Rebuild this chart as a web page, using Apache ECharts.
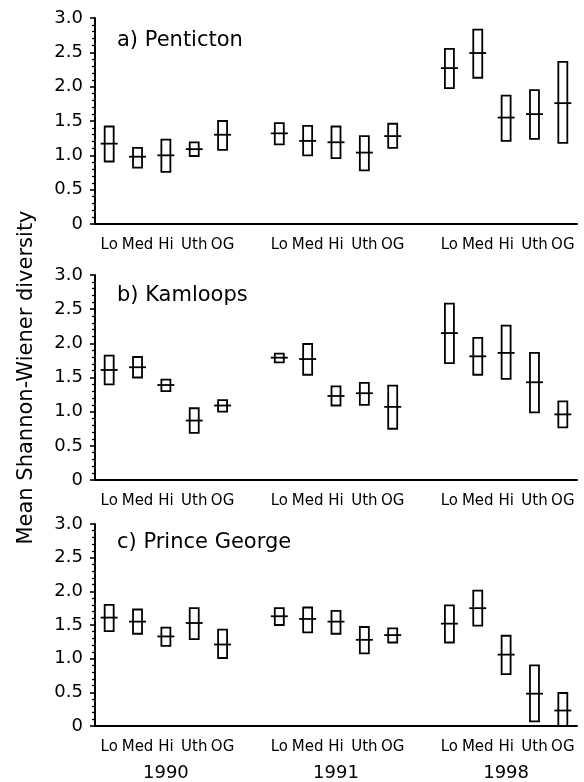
<!DOCTYPE html>
<html>
<head>
<meta charset="utf-8">
<script src="https://cdn.jsdelivr.net/npm/echarts@6/dist/echarts.min.js"></script>
<style>
  html, body { margin: 0; padding: 0; background: #fff; }
  #chart { width: 584px; height: 782px; }
</style>
</head>
<body>
<div id="chart"></div>
<script>
// categories
var treatments = ['Lo', 'Med', 'Hi', 'Uth', 'OG'];
var years = ['1990', '1991', '1998'];
var sites = ['a) Penticton', 'b) Kamloops', 'c) Prince George'];

// Penticton (per year: Lo, Med, Hi, Uth, OG)
var pentictonMean = [1.17, 0.98, 1.00, 1.09, 1.30, 1.32, 1.21, 1.19, 1.04, 1.28, 2.27, 2.49, 1.55, 1.60, 1.76];
var pentictonLow  = [0.91, 0.82, 0.76, 0.99, 1.08, 1.16, 1.00, 0.96, 0.78, 1.11, 1.98, 2.13, 1.21, 1.24, 1.18];
var pentictonHigh = [1.42, 1.11, 1.23, 1.19, 1.50, 1.47, 1.43, 1.42, 1.28, 1.46, 2.55, 2.83, 1.87, 1.95, 2.36];

// Kamloops
var kamloopsMean = [1.61, 1.65, 1.39, 0.87, 1.09, 1.79, 1.77, 1.23, 1.27, 1.07, 2.15, 1.81, 1.86, 1.43, 0.96];
var kamloopsLow  = [1.40, 1.50, 1.30, 0.69, 1.00, 1.72, 1.54, 1.09, 1.10, 0.75, 1.71, 1.54, 1.48, 0.99, 0.77];
var kamloopsHigh = [1.82, 1.80, 1.47, 1.05, 1.17, 1.85, 1.99, 1.37, 1.42, 1.38, 2.58, 2.08, 2.26, 1.86, 1.15];

// Prince George
var princeGeorgeMean = [1.61, 1.55, 1.33, 1.53, 1.21, 1.63, 1.59, 1.55, 1.28, 1.35, 1.52, 1.75, 1.06, 0.48, 0.23];
var princeGeorgeLow  = [1.41, 1.37, 1.19, 1.29, 1.01, 1.50, 1.39, 1.37, 1.08, 1.24, 1.24, 1.49, 0.77, 0.07, 0.00];
var princeGeorgeHigh = [1.80, 1.73, 1.46, 1.75, 1.43, 1.75, 1.76, 1.71, 1.47, 1.45, 1.79, 2.01, 1.34, 0.90, 0.49];

// y ticks
var yMin = 0, yMax = 3, yStep = 0.5;

var FONT = 'DejaVu Sans';

// x slots: 5 treatments + 1 empty gap between years
var slots = [];
var slotLabel = [];
years.forEach(function (y, yi) {
  treatments.forEach(function (t) { slots.push(y + ' ' + t); slotLabel.push(t); });
  if (yi < years.length - 1) { slots.push(y + ' gap'); slotLabel.push(''); }
});

function toData(mean, low, high) {
  var out = [];
  for (var i = 0; i < mean.length; i++) {
    var slot = Math.floor(i / 5) * 6 + (i % 5);
    out.push([slot, low[i], high[i], mean[i]]);
  }
  return out;
}
var siteData = [
  toData(pentictonMean, pentictonLow, pentictonHigh),
  toData(kamloopsMean, kamloopsLow, kamloopsHigh),
  toData(princeGeorgeMean, princeGeorgeLow, princeGeorgeHigh)
];

function renderBox(params, api) {
  var x = api.value(0);
  var lo = api.coord([x, api.value(1)]);
  var hi = api.coord([x, api.value(2)]);
  var mn = api.coord([x, api.value(3)]);
  return {
    type: 'group',
    children: [
      { type: 'rect', shape: { x: lo[0] - 4.5, y: hi[1], width: 9, height: lo[1] - hi[1] },
        style: { fill: 'none', stroke: '#000', lineWidth: 1.8 } },
      { type: 'line', shape: { x1: mn[0] - 8.5, y1: mn[1], x2: mn[0] + 8.5, y2: mn[1] },
        style: { stroke: '#000', lineWidth: 1.8 } }
    ]
  };
}

var grids = [
  { left: 95, right: 7, top: 18, height: 206 },
  { left: 95, right: 7, top: 275, height: 205 },
  { left: 95, right: 7, top: 524, height: 203 }
];
var titleTops = [25, 280, 527];

var myChart = echarts.init(document.getElementById('chart'));

var xAxes = grids.map(function (g, i) {
  return {
    type: 'category', gridIndex: i, data: slots, boundaryGap: true,
    axisLine: { lineStyle: { color: '#000', width: 2 } },
    axisTick: { alignWithLabel: true, interval: 0, length: 6, lineStyle: { color: '#000', width: 1.8 } },
    axisLabel: { interval: 0, margin: 14, color: '#000', fontFamily: FONT, fontSize: 15,
      formatter: function (v, idx) { return slotLabel[idx]; } },
    splitLine: { show: false }
  };
});
// year labels under panel c
xAxes.push({
  type: 'category', gridIndex: 2, data: slots, position: 'bottom',
  axisLine: { show: false }, axisTick: { show: false }, splitLine: { show: false },
  axisLabel: { interval: 0, margin: 38, color: '#000', fontFamily: FONT, fontSize: 18,
    formatter: function (v, idx) { return idx % 6 === 2 ? years[Math.floor(idx / 6)] : ''; } }
});

var yAxes = grids.map(function (g, i) {
  return {
    type: 'value', gridIndex: i, min: yMin, max: yMax, interval: yStep,
    name: i === 1 ? 'Mean Shannon-Wiener diversity' : '',
    nameLocation: 'middle', nameGap: 58,
    nameTextStyle: { color: '#000', fontFamily: FONT, fontSize: 21 },
    axisLine: { show: true, lineStyle: { color: '#000', width: 2 } },
    axisTick: { show: true, length: 5, lineStyle: { color: '#000', width: 1.6 } },
    minorTick: { show: true, splitNumber: 5, length: 3, lineStyle: { color: '#000', width: 1.3 } },
    axisLabel: { margin: 12, color: '#000', fontFamily: FONT, fontSize: 18,
      formatter: function (v) { return v === 0 ? '0' : v.toFixed(1); } },
    splitLine: { show: false }
  };
});

var option = {
  animation: false,
  backgroundColor: '#fff',
  title: sites.map(function (s, i) {
    return { text: s, left: 112, top: titleTops[i],
      textStyle: { color: '#000', fontFamily: FONT, fontSize: 21, fontWeight: 'normal' } };
  }),
  grid: grids,
  xAxis: xAxes,
  yAxis: yAxes,
  series: siteData.map(function (d, i) {
    return { type: 'custom', name: sites[i], xAxisIndex: i, yAxisIndex: i,
      renderItem: renderBox, encode: { x: 0, y: [1, 2, 3] }, data: d };
  })
};

myChart.setOption(option);
</script>
</body>
</html>
